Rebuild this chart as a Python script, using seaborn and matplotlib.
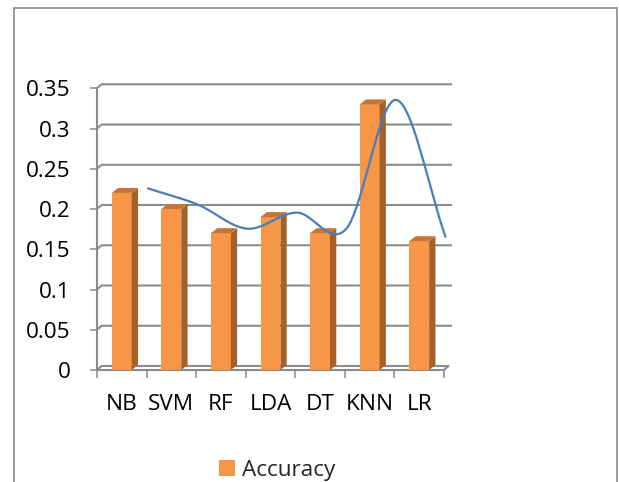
import numpy as np
import pandas as pd
import matplotlib
matplotlib.use("Agg")
import matplotlib.pyplot as plt
import matplotlib.transforms as mtransforms
from matplotlib.patches import Polygon, Rectangle, Patch
import seaborn as sns

# Data
models = ["NB", "SVM", "RF", "LDA", "DT", "KNN", "LR"]
accuracy = [0.22, 0.20, 0.17, 0.19, 0.17, 0.33, 0.16]
y_ticks = [0, 0.05, 0.1, 0.15, 0.2, 0.25, 0.3, 0.35]
y_tick_labels = ["0", "0.05", "0.1", "0.15", "0.2", "0.25", "0.3", "0.35"]
series_name = "Accuracy"

# Colours
FRONT = "#F79646"
SIDE = "#A5612A"
TOP = "#C4763A"
GRID = "#8C8C8C"
LINE = "#4A7EBB"
FS = 16.2

sns.set_theme(style="white")
plt.rcParams["font.family"] = ["Open Sans", "DejaVu Sans"]

W, H = 619, 482
fig = plt.figure(figsize=(W / 100, H / 100), dpi=100)
ax = fig.add_axes([97 / W, 1 - 370 / H, 347 / W, 281.7 / H])
ax.patch.set_visible(False)

df = pd.DataFrame({"model": models, "accuracy": accuracy})
sns.barplot(data=df, x="model", y="accuracy", color=FRONT, width=0.4,
            saturation=1, linewidth=0, ax=ax, zorder=3)
n = len(models)
ax.set_xlim(-0.5, n - 0.5)
ax.set_ylim(0, 0.35)


def px_to_data(dx_px, dy_px):
    o = ax.transData.transform((0, 0))
    sx = ax.transData.transform((1, 0))[0] - o[0]
    sy = ax.transData.transform((0, 1))[1] - o[1]
    return dx_px / sx, dy_px / sy


# Back wall gridlines with the short side-wall segment
wx, wy = px_to_data(4.5, 4.0)
ext, _ = px_to_data(3.5, 0)
for y in y_ticks[1:]:
    ax.plot([-0.5, -0.5 + wx, n - 0.5 + wx + ext], [y, y + wy, y + wy],
            color=GRID, lw=1.5, zorder=1, clip_on=False, solid_capstyle="butt")

# Floor
ax.plot([-0.5, -0.5 + wx, n - 0.5 + wx, n - 0.5], [0, wy, wy, 0],
        color=GRID, lw=1.5, zorder=1, clip_on=False)

# Depth faces of the columns
dx, dy = px_to_data(6.3, 5.0)
for p in list(ax.patches):
    x0, w, h = p.get_x(), p.get_width(), p.get_height()
    side = Polygon([(x0 + w, 0), (x0 + w + dx, dy), (x0 + w + dx, h + dy), (x0 + w, h)],
                   closed=True, facecolor=SIDE, edgecolor="none", zorder=3)
    top = Polygon([(x0, h), (x0 + dx, h + dy), (x0 + w + dx, h + dy), (x0 + w, h)],
                  closed=True, facecolor=TOP, edgecolor="none", zorder=3)
    ax.add_patch(side)
    ax.add_patch(top)

# Smoothed line through the accuracy values (Catmull-Rom)
kx = np.arange(n) + 0.5
ky = np.array(accuracy, dtype=float)
tang = np.empty(n)
tang[1:-1] = (ky[2:] - ky[:-2]) / 2
tang[0] = ky[1] - ky[0]
tang[-1] = ky[-1] - ky[-2]
cx, cy = [], []
t = np.linspace(0, 1, 40)
h00 = 2 * t**3 - 3 * t**2 + 1
h10 = t**3 - 2 * t**2 + t
h01 = -2 * t**3 + 3 * t**2
h11 = t**3 - t**2
for i in range(n - 1):
    cx.extend(kx[i] + t)
    cy.extend(h00 * ky[i] + h10 * tang[i] + h01 * ky[i + 1] + h11 * tang[i + 1])
curve = pd.DataFrame({"x": cx, "y": cy})
sns.lineplot(data=curve, x="x", y="y", sort=False, estimator=None,
             color=LINE, lw=1.6, ax=ax, zorder=5)
ax.lines[-1].set_transform(
    ax.transData + mtransforms.ScaledTranslation(1.5 / 100, 4.5 / 100, fig.dpi_scale_trans))
ax.lines[-1].set_clip_on(False)

# Axes styling
for s in ["top", "right"]:
    ax.spines[s].set_visible(False)
for s in ["left", "bottom"]:
    ax.spines[s].set_color(GRID)
    ax.spines[s].set_linewidth(1.5)
    ax.spines[s].set_zorder(2)

ax.set_yticks(y_ticks, y_tick_labels)
ax.set_xticks(range(n), models)
ax.set_xticks(np.arange(-0.5, n, 1), minor=True)
ax.tick_params(axis="y", which="major", left=True, length=5, width=1.1,
               color=GRID, labelsize=FS, pad=14, labelcolor="black")
ax.tick_params(axis="x", which="major", bottom=True, length=0, pad=17.5,
               labelsize=FS, labelcolor="black")
ax.tick_params(axis="x", which="minor", bottom=True, length=6, width=1.1, color=GRID)
ax.set_xlabel("")
ax.set_ylabel("")
ax.grid(False)

# Legend
fig.legend(handles=[Patch(facecolor=FRONT, edgecolor="none", label=series_name)],
           loc="center", bbox_to_anchor=(277 / W, 1 - 470.5 / H), frameon=False,
           fontsize=FS, handlelength=0.7, handleheight=0.7, handletextpad=0.3)

# Chart area border
fig.add_artist(Rectangle((14 / W, -0.05), (617 - 14) / W, 1.05 - 8 / H,
                         transform=fig.transFigure, fill=False,
                         edgecolor="#8A8A8A", lw=1.2))

fig.savefig("out.png", dpi=100)
